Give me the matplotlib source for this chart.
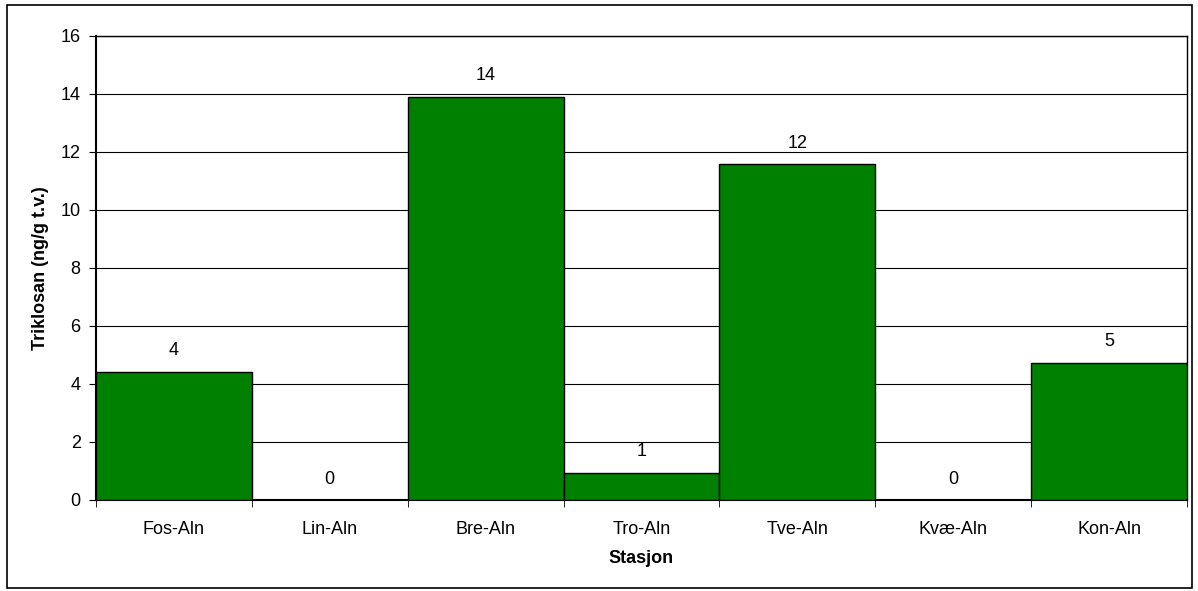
import matplotlib
matplotlib.use("Agg")
import matplotlib.pyplot as plt
from matplotlib.patches import Rectangle

categories = ["Fos-Aln", "Lin-Aln", "Bre-Aln", "Tro-Aln", "Tve-Aln", "Kvæ-Aln", "Kon-Aln"]
values = [4.42, 0.0, 13.9, 0.94, 11.58, 0.0, 4.73]
labels = ["4", "0", "14", "1", "12", "0", "5"]
yticks = [0, 2, 4, 6, 8, 10, 12, 14, 16]

plt.rcParams['font.family'] = ['Liberation Sans', 'DejaVu Sans']
FS = 13

fig = plt.figure(figsize=(11.98, 5.91), dpi=100)
W, H = 1198, 591
ax = fig.add_axes([96 / W, 1 - 500 / H, (1187 - 96) / W, (500 - 36) / H])

x = list(range(len(categories)))
ax.bar(x, values, width=1.0, color="#008000", edgecolor="black", linewidth=1.0, zorder=3)
for xi, v, lab in zip(x, values, labels):
    ax.annotate(lab, (xi, v), xytext=(0, 9), textcoords="offset points",
                ha="center", va="bottom", fontsize=FS, zorder=4)

ax.set_xlim(-0.5, len(categories) - 0.5)
ax.set_ylim(0, 16)
ax.set_yticks(yticks)
ax.set_yticklabels([str(t) for t in yticks], fontsize=FS)
ax.yaxis.grid(True, color="black", linewidth=0.8, zorder=0)
ax.set_axisbelow(True)

ax.set_xticks(x)
ax.set_xticklabels(categories, fontsize=FS)
ax.tick_params(axis="x", length=0, pad=15)
# category boundary ticks
ax.set_xticks([i - 0.5 for i in range(len(categories) + 1)], minor=True)
ax.tick_params(axis="x", which="minor", length=5, direction="out", color="black")
ax.tick_params(axis="y", length=5, direction="out", pad=6)

for s in ax.spines.values():
    s.set_color("black")
    s.set_linewidth(1.0)
ax.spines["left"].set_linewidth(1.5)
ax.spines["bottom"].set_linewidth(1.5)

ax.set_xlabel("Stasjon", fontsize=FS, fontweight="bold", labelpad=9)
ax.set_ylabel("Triklosan (ng/g t.v.)", fontsize=FS, fontweight="bold", labelpad=8)

fig.patches.append(Rectangle((7 / W, 3 / H), (1192 - 7) / W, (586 - 3) / H,
                             transform=fig.transFigure, fill=False,
                             edgecolor="black", linewidth=1.2))

fig.savefig("out.png", dpi=100)
